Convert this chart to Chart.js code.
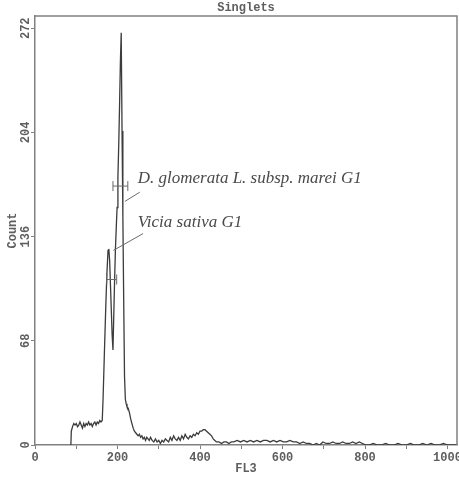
<!DOCTYPE html>
<html>
<head>
<meta charset="utf-8">
<script src="https://cdn.jsdelivr.net/npm/chart.js@4/dist/chart.umd.min.js"></script>
<style>
  html, body { margin: 0; padding: 0; background: #fff; }
  #wrap { width: 459px; height: 481px; }
</style>
</head>
<body>
<div id="wrap"><canvas id="histChart" width="459" height="481"></canvas></div>
<script>
// FL3 channel and event count
const channels = [
  87, 88, 91, 94, 97, 100, 103, 106, 109, 112, 115, 118, 121, 124, 127, 130, 133, 136, 139, 142,
  145, 148, 151, 154, 157, 160, 163, 165, 168, 171, 174, 177, 179, 181, 183, 185, 187, 189, 191, 193,
  195, 197, 199, 201, 203, 205, 207, 209, 211, 213, 215, 217, 219, 221, 223, 226, 229, 232, 235, 238,
  241, 244, 247, 250, 253, 256, 259, 262, 265, 268, 271, 274, 277, 280, 284, 288, 292, 296, 300, 304,
  308, 312, 316, 320, 324, 328, 332, 336, 340, 344, 348, 352, 356, 360, 364, 368, 372, 376, 380, 384,
  388, 392, 396, 400, 404, 408, 412, 416, 420, 424, 428, 432, 436, 440, 446, 452, 458, 464, 470, 476,
  482, 490, 498, 506, 514, 522, 530, 538, 546, 554, 562, 570, 578, 586, 594, 602, 610, 618, 626, 634,
  642, 650, 658, 666, 674, 682, 690, 698, 706, 714, 722, 730, 738, 746, 754, 762, 770, 778, 786, 794,
  802, 810, 820, 830, 840, 850, 860, 870, 880, 890, 900, 910, 920, 930, 940, 950, 960, 970, 980, 990,
  1000, 1010, 1023
];
const counts = [
  0, 9, 12, 14, 13, 14, 12, 13, 15, 13, 11, 14, 12, 14, 13, 15, 13, 14, 12, 14,
  15, 13, 15, 14, 16, 15, 16, 30, 58, 85, 110, 127, 128, 120, 104, 88, 72, 62, 85, 108,
  128, 142, 155, 175, 196, 222, 250, 269, 205, 149, 95, 45, 30, 27, 25, 24, 21, 17, 14, 11,
  9, 8, 7, 6, 7, 5, 6, 4, 5, 3, 5, 4, 3, 5, 3, 2, 4, 2, 3, 1,
  3, 2, 4, 3, 2, 5, 3, 6, 4, 3, 5, 3, 6, 4, 7, 5, 4, 6, 5, 7,
  6, 8, 7, 9, 9, 10, 10, 9, 8, 7, 6, 4, 3, 2, 2, 1, 2, 2, 1, 2,
  2, 3, 2, 3, 2, 3, 2, 3, 2, 3, 3, 2, 3, 2, 3, 2, 2, 3, 2, 2,
  1, 2, 1, 1, 0, 1, 0, 2, 1, 1, 2, 1, 1, 2, 1, 1, 2, 1, 2, 1,
  0, 0, 1, 0, 0, 1, 0, 0, 1, 0, 0, 1, 0, 0, 1, 0, 1, 0, 0, 1,
  0, 0, 0
];
const xTicks = [0, 100, 200, 300, 400, 500, 600, 700, 800, 900, 1000];
const yTicks = [0, 68, 136, 204, 272];

// G1 gates: name, channel range, marker level
const gateNames = ['D. glomerata L. subsp. marei G1', 'Vicia sativa G1'];
const gateStart = [189, 174];
const gateEnd = [225, 198];
const gateLevel = [169, 108];

// where the gate names sit and where their leader lines point
const labelAt = [[249, 171], [249, 142]];
const leaderFrom = [[254, 165], [262, 138]];
const leaderTo = [[218, 159], [190, 127]];

const monoFont = 'Liberation Mono, DejaVu Sans Mono, monospace';
const axisGray = '#808080';
const textGray = '#5e5e5e';

const gatePlugin = {
  id: 'gates',
  afterDatasetsDraw(chart) {
    const { ctx, chartArea, scales: { x, y } } = chart;
    ctx.save();
    // frame top and right
    ctx.strokeStyle = axisGray;
    ctx.lineWidth = 1.5;
    ctx.beginPath();
    ctx.moveTo(chartArea.left, chartArea.top);
    ctx.lineTo(chartArea.right, chartArea.top);
    ctx.lineTo(chartArea.right, chartArea.bottom);
    ctx.stroke();

    ctx.strokeStyle = '#6a6a6a';
    ctx.lineWidth = 1;
    gateNames.forEach((name, i) => {
      const x0 = x.getPixelForValue(gateStart[i]);
      const x1 = x.getPixelForValue(gateEnd[i]);
      const gy = y.getPixelForValue(gateLevel[i]);
      ctx.beginPath();
      ctx.moveTo(x0, gy); ctx.lineTo(x1, gy);
      ctx.moveTo(x0, gy - 5); ctx.lineTo(x0, gy + 5);
      ctx.moveTo(x1, gy - 5); ctx.lineTo(x1, gy + 5);
      ctx.moveTo(x.getPixelForValue(leaderFrom[i][0]), y.getPixelForValue(leaderFrom[i][1]));
      ctx.lineTo(x.getPixelForValue(leaderTo[i][0]), y.getPixelForValue(leaderTo[i][1]));
      ctx.stroke();

      ctx.fillStyle = '#4a4a4a';
      ctx.font = 'italic 17px "Liberation Serif", "DejaVu Serif", serif';
      ctx.textAlign = 'left';
      ctx.textBaseline = 'alphabetic';
      ctx.fillText(name, x.getPixelForValue(labelAt[i][0]), y.getPixelForValue(labelAt[i][1]));
    });
    ctx.restore();
  }
};

const ctx = document.getElementById('histChart').getContext('2d');
window.histChart = new Chart(ctx, {
  type: 'line',
  data: {
    datasets: [{
      data: channels.map((c, i) => ({ x: c, y: counts[i] })),
      borderColor: '#3c3c3c',
      borderWidth: 1.3,
      pointRadius: 0,
      tension: 0,
      fill: false
    }]
  },
  options: {
    responsive: false,
    animation: false,
    layout: { padding: { top: 0, right: 2, left: 0, bottom: 0 } },
    plugins: {
      legend: { display: false },
      tooltip: { enabled: false },
      title: {
        display: true,
        text: 'Singlets',
        fullSize: false,
        color: textGray,
        font: { family: monoFont, size: 12, weight: 'bold', lineHeight: 1 },
        padding: { top: 2, bottom: 2 }
      }
    },
    scales: {
      x: {
        type: 'linear',
        min: 0,
        max: 1023,
        afterBuildTicks: s => { s.ticks = xTicks.map(v => ({ value: v })); },
        afterFit: s => { s.height = 36; s.paddingLeft = 0; s.paddingRight = 0; },
        ticks: {
          autoSkip: false,
          maxRotation: 0,
          padding: 2,
          color: textGray,
          font: { family: monoFont, size: 12, weight: 'bold' },
          callback: v => (v % 200 === 0 ? v : '')
        },
        grid: { drawOnChartArea: false, tickLength: 4, color: axisGray },
        border: { color: axisGray, width: 1.5 },
        title: {
          display: true,
          text: 'FL3',
          color: textGray,
          font: { family: monoFont, size: 12, weight: 'bold', lineHeight: 1 },
          padding: { top: 0, bottom: 6 }
        }
      },
      y: {
        min: 0,
        max: 280,
        afterBuildTicks: s => { s.ticks = yTicks.map(v => ({ value: v })); },
        afterFit: s => { s.width = 35; s.paddingTop = 0; s.paddingBottom = 0; },
        ticks: {
          minRotation: 90,
          maxRotation: 90,
          crossAlign: 'center',
          padding: -6,
          color: textGray,
          font: { family: monoFont, size: 12, weight: 'bold' }
        },
        grid: { drawOnChartArea: false, tickLength: 4, color: axisGray },
        border: { color: axisGray, width: 1.5 },
        title: {
          display: true,
          text: 'Count',
          color: textGray,
          font: { family: monoFont, size: 12, weight: 'bold', lineHeight: 1 },
          padding: { top: 7, bottom: 0 }
        }
      }
    }
  },
  plugins: [gatePlugin]
});
</script>
</body>
</html>
